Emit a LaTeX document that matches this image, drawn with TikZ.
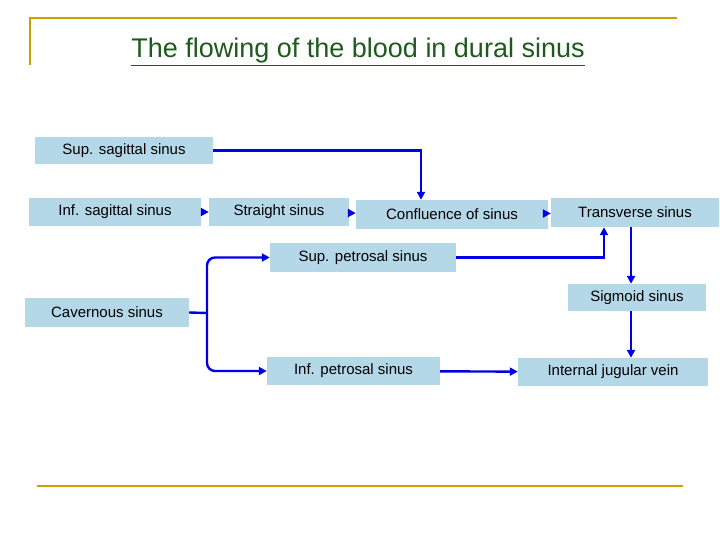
\documentclass[tikz,border=0pt]{standalone}
\usepackage{fontspec}
\setmainfont{Liberation Sans}
\usetikzlibrary{arrows.meta}
\definecolor{boxblue}{HTML}{B5D8E8}
\definecolor{framegold}{HTML}{C8A200}
\definecolor{titlegreen}{HTML}{1E5A1E}
\tikzset{
  sinus/.style={fill=boxblue, inner sep=0pt, font=\fontsize{15}{17}\selectfont},
  flow/.style={draw=blue!90!black, line width=2.4pt, -{Triangle[length=8pt,width=8pt]}},
  feedline/.style={draw=blue!90!black, line width=2.4pt, rounded corners=8pt}
}
\begin{document}
\begin{tikzpicture}[x=1pt,y=-1pt]
\useasboundingbox (0,0) rectangle (720,540);
% frame
\draw[framegold, line width=2pt] (30,65) -- (30,18) -- (677,18);
\draw[framegold, line width=2pt] (37,486) -- (683,486);
\node[text=titlegreen, font=\fontsize{27}{30}\selectfont] (title) at (358,52)
  {\underline{The flowing of the blood in dural sinus}};
% boxes
\node[sinus, minimum width=178, minimum height=27] (supsag) at (124,150.5) {Sup. sagittal sinus};
\node[sinus, minimum width=172, minimum height=28] (infsag) at (115,212) {Inf. sagittal sinus};
\node[sinus, minimum width=140, minimum height=28] (straight) at (279,212) {Straight sinus};
\node[sinus, minimum width=192, minimum height=29] (confl) at (452,214.5) {Confluence of sinus};
\node[sinus, minimum width=168, minimum height=29] (transv) at (635,212.5) {Transverse sinus};
\node[sinus, minimum width=186, minimum height=29] (suppet) at (363,257.5) {Sup. petrosal sinus};
\node[sinus, minimum width=164, minimum height=29] (cavern) at (107,312.5) {Cavernous sinus};
\node[sinus, minimum width=138, minimum height=27] (sigmoid) at (637,297.5) {Sigmoid sinus};
\node[sinus, minimum width=173, minimum height=28] (infpet) at (353.5,371) {Inf. petrosal sinus};
\node[sinus, minimum width=190, minimum height=28] (ijv) at (613,372) {Internal jugular vein};
% connectors
\coordinate (split) at (207,313);
\draw[flow] (supsag.east) -| (confl.north -| 421,0);
\draw[flow] (infsag) -- (straight);
\draw[flow] (straight) -- (confl);
\draw[flow] (confl) -- (transv);
\draw[flow] (suppet.east) -| (transv.south -| 604,0);
\draw[flow] (transv.south -| 631,0) -- (sigmoid.north -| 631,0);
\draw[flow] (sigmoid.south -| 631,0) -- (ijv.north -| 631,0);
\draw[feedline] (cavern.east) -- (split);
\draw[flow, rounded corners=8pt] (split) |- (suppet.west);
\draw[flow, rounded corners=8pt] (split) |- (infpet.west);
\draw[flow] (infpet) -- (ijv);
\end{tikzpicture}
\end{document}
